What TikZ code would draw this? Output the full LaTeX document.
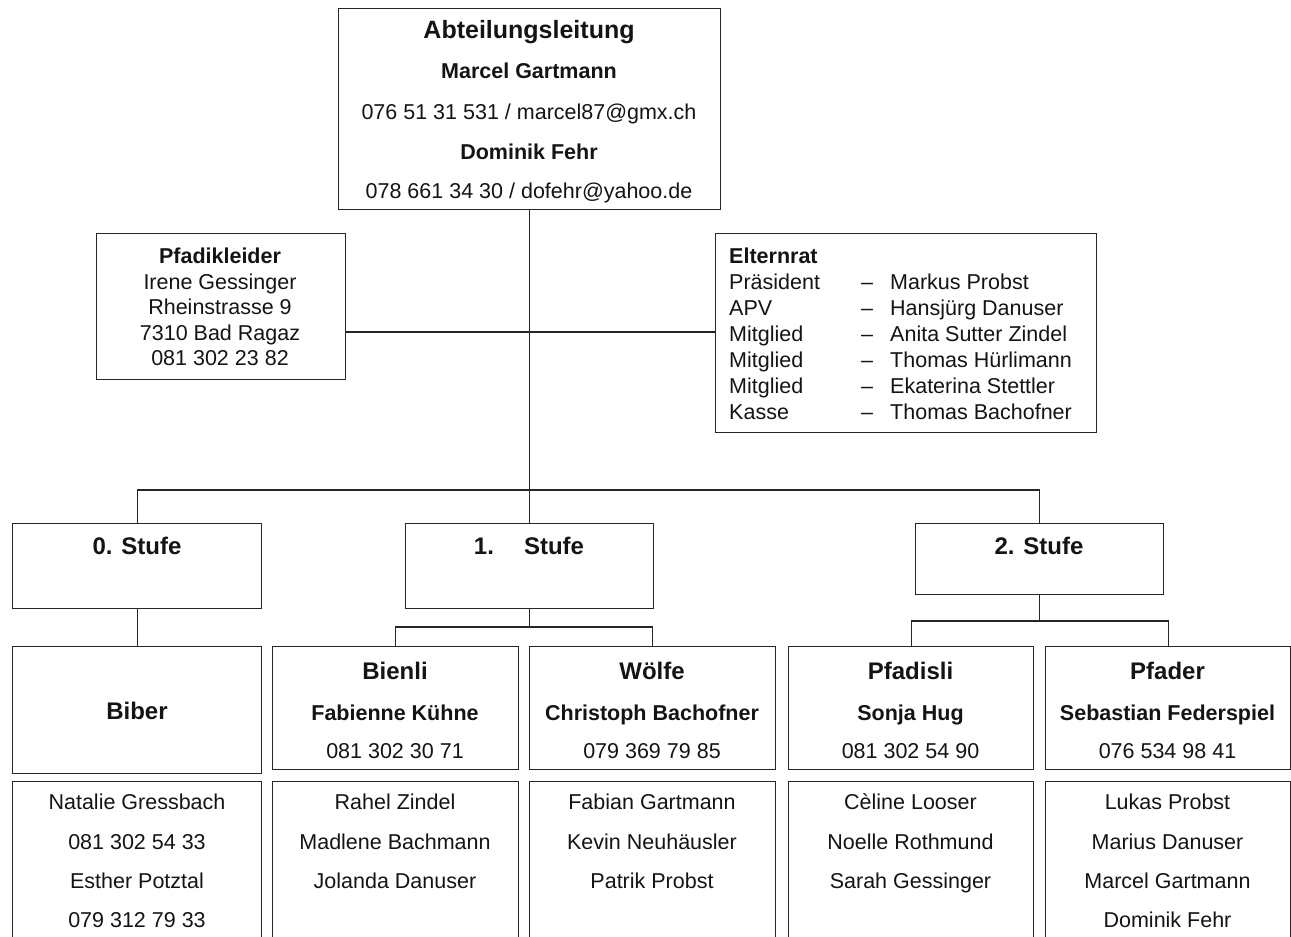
\documentclass[tikz,border=0pt]{standalone}
\usepackage{fontspec}
\setmainfont{Liberation Sans}
\begin{document}
\begin{tikzpicture}[x=1pt,y=-1pt,
  box/.style={draw=black!85, line width=1.3pt, anchor=north west, inner sep=0pt},
  conn/.style={draw=black!85, line width=1.3pt},
  head/.style={anchor=base, inner sep=0pt, text=black!92, font=\fontsize{24}{28}\selectfont\bfseries},
  bold/.style={anchor=base, inner sep=0pt, text=black!92, font=\fontsize{21.5}{26}\selectfont\bfseries},
  txt/.style={anchor=base, inner sep=0pt, text=black!92, font=\fontsize{21.5}{26}\selectfont},
  ltxt/.style={txt, anchor=base west},
  lbold/.style={bold, anchor=base west}]
\useasboundingbox (0,0) rectangle (1291,937);
\clip (0,0) rectangle (1291,937);
\fill[white] (0,0) rectangle (1291,937);

% boxes
\node[box, minimum width=382pt, minimum height=201pt] (top) at (338,8) {};
\node[box, minimum width=249pt, minimum height=146pt] (pk) at (96,233) {};
\node[box, minimum width=381pt, minimum height=199pt] (er) at (715,233) {};
\node[box, minimum width=249pt, minimum height=85pt] (s0) at (12,523) {};
\node[box, minimum width=248pt, minimum height=85pt] (s1) at (405,523) {};
\node[box, minimum width=248pt, minimum height=71pt] (s2) at (915,523) {};
\node[box, minimum width=249pt, minimum height=127pt] (biber) at (12,646) {};
\node[box, minimum width=246pt, minimum height=123pt] (bienli) at (272,646) {};
\node[box, minimum width=246pt, minimum height=123pt] (woelfe) at (529,646) {};
\node[box, minimum width=245pt, minimum height=123pt] (pfadisli) at (788,646) {};
\node[box, minimum width=245pt, minimum height=123pt] (pfader) at (1045,646) {};
\node[box, minimum width=249pt, minimum height=180pt] (m0) at (12,781) {};
\node[box, minimum width=246pt, minimum height=180pt] (m1) at (272,781) {};
\node[box, minimum width=246pt, minimum height=180pt] (m2) at (529,781) {};
\node[box, minimum width=245pt, minimum height=180pt] (m3) at (788,781) {};
\node[box, minimum width=245pt, minimum height=180pt] (m4) at (1045,781) {};

% connectors
\coordinate (j0) at (529,332);
\coordinate (bus) at (529,490);
\coordinate (j1) at (s1.south |- 0,627);
\coordinate (j2) at (s2.south |- 0,621);
\draw[conn] (top.south) -- (s1.north);
\draw[conn] (pk.east |- j0) -- (er.west |- j0);
\draw[conn] (s0.north) |- (bus) -| (s2.north);
\draw[conn] (s0.south) -- (biber.north);
\draw[conn] (s1.south) -- (j1);
\draw[conn] (bienli.north) |- (j1) -| (woelfe.north);
\draw[conn] (s2.south) -- (j2);
\draw[conn] (pfadisli.north) |- (j2) -| (pfader.north);

% top box text
\node[head, font=\fontsize{25}{30}\selectfont\bfseries] (t1) at (529,38) {Abteilungsleitung};
\node[bold] (t2) at (529,78) {Marcel Gartmann};
\node[txt] (t3) at (529,119) {076 51 31 531 / marcel87@gmx.ch};
\node[bold] (t4) at (529,159) {Dominik Fehr};
\node[txt] (t5) at (529,198) {078 661 34 30 / dofehr@yahoo.de};

% Pfadikleider
\node[bold] (p1) at (220,263) {Pfadikleider};
\node[txt] (p2) at (220,289) {Irene Gessinger};
\node[txt] (p3) at (220,314.5) {Rheinstrasse 9};
\node[txt] (p4) at (220,340) {7310 Bad Ragaz};
\node[txt] (p5) at (220,365.5) {081 302 23 82};

% Elternrat
\node[lbold] (e0) at (729,263) {Elternrat};
\node[ltxt] (e1a) at (729,289) {Präsident};
\node[ltxt] (e1b) at (861,289) {–};
\node[ltxt] (e1c) at (890,289) {Markus Probst};
\node[ltxt] (e2a) at (729,315) {APV};
\node[ltxt] (e2b) at (861,315) {–};
\node[ltxt] (e2c) at (890,315) {Hansjürg Danuser};
\node[ltxt] (e3a) at (729,341) {Mitglied};
\node[ltxt] (e3b) at (861,341) {–};
\node[ltxt] (e3c) at (890,341) {Anita Sutter Zindel};
\node[ltxt] (e4a) at (729,367) {Mitglied};
\node[ltxt] (e4b) at (861,367) {–};
\node[ltxt] (e4c) at (890,367) {Thomas Hürlimann};
\node[ltxt] (e5a) at (729,393) {Mitglied};
\node[ltxt] (e5b) at (861,393) {–};
\node[ltxt] (e5c) at (890,393) {Ekaterina Stettler};
\node[ltxt] (e6a) at (729,419) {Kasse};
\node[ltxt] (e6b) at (861,419) {–};
\node[ltxt] (e6c) at (890,419) {Thomas Bachofner};

% Stufen
\node[head] (st0) at (137,554) {0. Stufe};
\node[head] (st1) at (529,554) {1.\hspace*{30pt}Stufe};
\node[head] (st2) at (1039,554) {2. Stufe};

% group heads
\node[head] (g0) at (137,719) {Biber};
\node[head] (g1) at (395,679) {Bienli};
\node[bold] (g1n) at (395,720) {Fabienne Kühne};
\node[txt] (g1p) at (395,758) {081 302 30 71};
\node[head] (g2) at (652,679) {Wölfe};
\node[bold] (g2n) at (652,720) {Christoph Bachofner};
\node[txt] (g2p) at (652,758) {079 369 79 85};
\node[head] (g3) at (910.5,679) {Pfadisli};
\node[bold] (g3n) at (910.5,720) {Sonja Hug};
\node[txt] (g3p) at (910.5,758) {081 302 54 90};
\node[head] (g4) at (1167.5,679) {Pfader};
\node[bold] (g4n) at (1167.5,720) {Sebastian Federspiel};
\node[txt] (g4p) at (1167.5,758) {076 534 98 41};

% members
\node[txt] (a1) at (137,809) {Natalie Gressbach};
\node[txt] (a2) at (137,849) {081 302 54 33};
\node[txt] (a3) at (137,888) {Esther Potztal};
\node[txt] (a4) at (137,927) {079 312 79 33};
\node[txt] (b1) at (395,809) {Rahel Zindel};
\node[txt] (b2) at (395,849) {Madlene Bachmann};
\node[txt] (b3) at (395,888) {Jolanda Danuser};
\node[txt] (c1) at (652,809) {Fabian Gartmann};
\node[txt] (c2) at (652,849) {Kevin Neuhäusler};
\node[txt] (c3) at (652,888) {Patrik Probst};
\node[txt] (d1) at (910.5,809) {Cèline Looser};
\node[txt] (d2) at (910.5,849) {Noelle Rothmund};
\node[txt] (d3) at (910.5,888) {Sarah Gessinger};
\node[txt] (f1) at (1167.5,809) {Lukas Probst};
\node[txt] (f2) at (1167.5,849) {Marius Danuser};
\node[txt] (f3) at (1167.5,888) {Marcel Gartmann};
\node[txt] (f4) at (1167.5,927) {Dominik Fehr};
\end{tikzpicture}
\end{document}
